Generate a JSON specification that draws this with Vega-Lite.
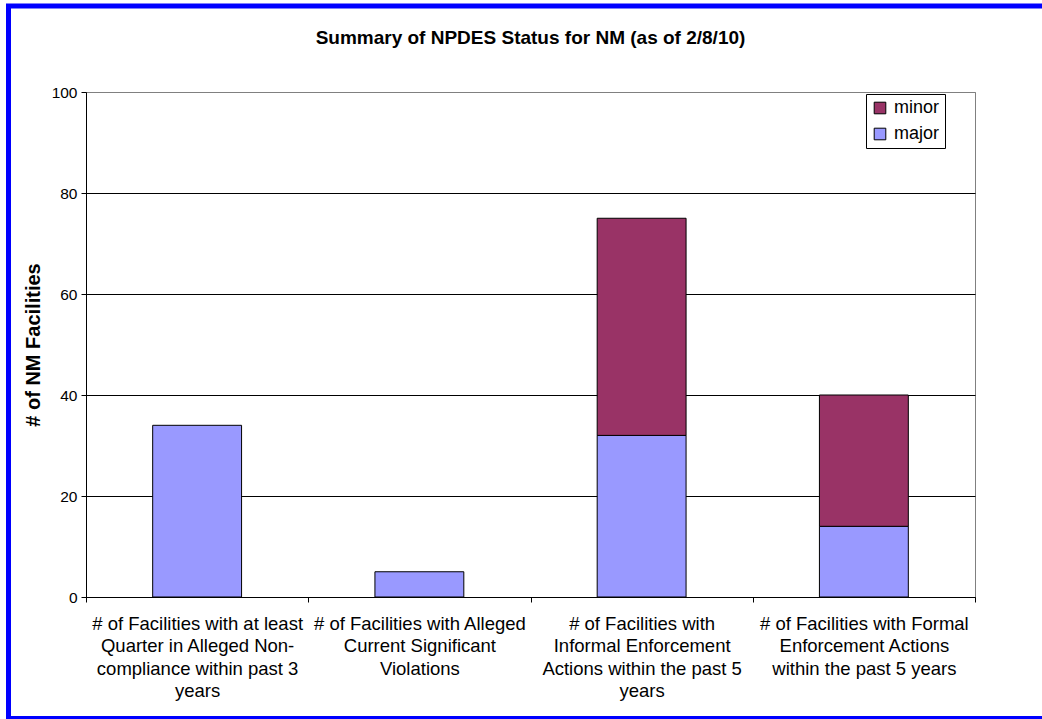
{
  "$schema": "https://vega.github.io/schema/vega-lite/v6.json",
  "width": 889,
  "height": 505,
  "autosize": {"type": "none"},
  "padding": {"left": 86, "top": 92, "right": 67, "bottom": 122},
  "background": "white",
  "title": {
    "text": "Summary of NPDES Status for NM (as of 2/8/10)",
    "font": "Liberation Sans",
    "fontSize": 19,
    "fontWeight": "bold",
    "color": "black",
    "anchor": "middle",
    "frame": "group",
    "baseline": "alphabetic",
    "offset": -59.5
  },
  "config": {
    "font": "Liberation Sans",
    "view": {"stroke": "#808080", "strokeWidth": 1}
  },
  "data": {
    "values": [
      {"measure": "# of Facilities with at least|Quarter in Alleged Non-|compliance within past 3|years", "type": "major", "count": 34},
      {"measure": "# of Facilities with Alleged|Current Significant|Violations", "type": "major", "count": 5},
      {"measure": "# of Facilities with|Informal Enforcement|Actions within the past 5|years", "type": "major", "count": 32},
      {"measure": "# of Facilities with|Informal Enforcement|Actions within the past 5|years", "type": "minor", "count": 43},
      {"measure": "# of Facilities with Formal|Enforcement Actions|within the past 5 years", "type": "major", "count": 14},
      {"measure": "# of Facilities with Formal|Enforcement Actions|within the past 5 years", "type": "minor", "count": 26}
    ]
  },
  "layer": [
    {
      "mark": {"type": "bar", "width": {"band": 0.4}, "stroke": "black", "strokeWidth": 1},
      "encoding": {
        "x": {
          "field": "measure",
          "type": "nominal",
          "sort": null,
          "scale": {"paddingInner": 0, "paddingOuter": 0},
          "axis": {
            "title": null,
            "labelAngle": 0,
            "labelExpr": "split(datum.label, '|')",
            "labelFont": "Liberation Sans",
            "labelFontSize": 18.5,
            "labelLineHeight": 22.5,
            "labelColor": "black",
            "labelLimit": 0,
            "labelOverlap": false,
            "labelBound": false,
            "labelPadding": 12,
            "tickBand": "extent",
            "tickSize": 5,
            "tickColor": "black",
            "domainColor": "black",
            "grid": false
          }
        },
        "y": {
          "field": "count",
          "type": "quantitative",
          "stack": "zero",
          "scale": {"domain": [0, 100], "nice": false},
          "axis": {
            "title": "# of NM Facilities",
            "titleFont": "Liberation Sans",
            "titleFontSize": 20,
            "titleFontWeight": "bold",
            "titleColor": "black",
            "titlePadding": 8,
            "values": [0, 20, 40, 60, 80, 100],
            "labelFont": "Liberation Sans",
            "labelFontSize": 15.5,
            "labelColor": "black",
            "labelPadding": 4,
            "tickSize": 5,
            "tickColor": "black",
            "domainColor": "black",
            "grid": true,
            "gridColor": {"expr": "datum.value === 100 ? '#808080' : 'black'"},
            "gridWidth": 1
          }
        },
        "color": {
          "field": "type",
          "type": "nominal",
          "scale": {"domain": ["minor", "major"], "range": ["#993366", "#9999FF"]},
          "legend": {
            "title": null,
            "orient": "none",
            "legendX": 780,
            "legendY": 2,
            "fillColor": "white",
            "strokeColor": "black",
            "padding": 5,
            "rowPadding": 8,
            "symbolType": "square",
            "symbolSize": 135,
            "symbolStrokeColor": "black",
            "symbolStrokeWidth": 1,
            "symbolOpacity": 1,
            "labelFont": "Liberation Sans",
            "labelFontSize": 18,
            "labelColor": "black",
            "labelOffset": 5
          }
        },
        "order": {"field": "type", "sort": "ascending"}
      }
    },
    {
      "data": {"values": [{}]},
      "mark": {
        "type": "rect",
        "x": -77.5,
        "y": -86,
        "x2": {"expr": "width + 100"},
        "y2": {"expr": "height + 121.5"},
        "fill": null,
        "stroke": "#0000FF",
        "strokeWidth": 5
      },
      "encoding": {}
    }
  ]
}
